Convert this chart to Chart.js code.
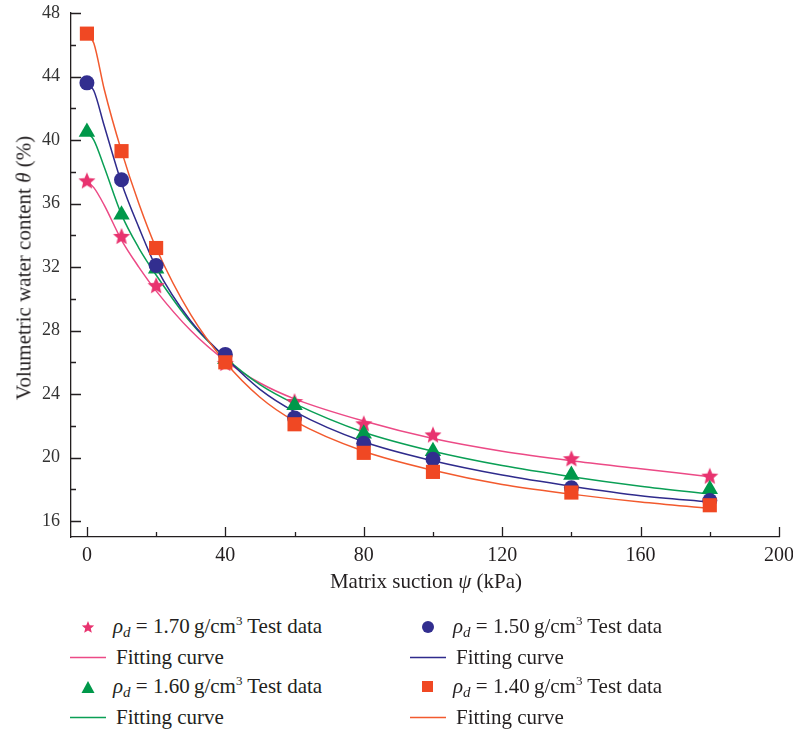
<!DOCTYPE html>
<html>
<head>
<meta charset="utf-8">
<script src="https://cdn.jsdelivr.net/npm/chart.js@4/dist/chart.umd.min.js"></script>
<style>
  body { margin: 0; background: #fff; }
  #wrap { position: relative; width: 793px; height: 731px; font-family: "Liberation Serif", serif; color: #231f20; }
  #box { position: absolute; left: 0; top: 0; width: 793px; height: 600px; }
  .ttl { position: absolute; font-size: 21px; white-space: nowrap; }
  #ytitle { left: 24px; top: 268px; transform: translate(-50%, -50%) rotate(-90deg); }
  #xtitle { left: 426px; top: 581px; transform: translate(-50%, -50%); }
  .leg { position: absolute; font-size: 21px; white-space: nowrap; transform: translateY(-50%); }
  .mk { position: absolute; transform: translate(-50%, -50%); line-height: 0; }
  sub { font-size: 15px; vertical-align: -4px; font-style: italic; }
  sup { font-size: 13px; vertical-align: 8px; }
</style>
</head>
<body>
<div id="wrap">
  <div id="box"><canvas id="chart"></canvas></div>
  <div class="ttl" id="ytitle">Volumetric water content <i>θ</i> (%)</div>
  <div class="ttl" id="xtitle">Matrix suction <i>ψ</i> (kPa)</div>
  <div id="legend"></div>
</div>
<script>
// test data (suction in kPa, water content in %)
const suction = [0, 10, 20, 40, 60, 80, 100, 140, 180];
const test170 = [37.4, 33.9, 30.8, 25.9, 23.5, 22.1, 21.4, 19.9, 18.8];
const test160 = [40.5, 35.3, 31.9, 26.2, 23.3, 21.5, 20.4, 18.9, 18.0];
const test150 = [43.6, 37.5, 32.1, 26.5, 22.5, 20.9, 19.9, 18.1, 17.3];
const test140 = [46.7, 39.3, 33.2, 26.0, 22.1, 20.3, 19.1, 17.8, 17.0];

// fitting curves
const fitX = [0, 2, 5, 10, 15, 20, 30, 40, 50, 60, 80, 100, 120, 140, 160, 180];
const fit170 = [37.4, 37.0, 35.9, 33.7, 32.0, 30.5, 28.0, 26.1, 24.7, 23.7, 22.3, 21.2, 20.4, 19.8, 19.3, 18.8];
const fit160 = [40.5, 40.0, 38.3, 35.3, 33.2, 31.5, 28.5, 26.3, 24.6, 23.4, 21.6, 20.4, 19.5, 18.8, 18.2, 17.7];
const fit150 = [43.6, 43.1, 40.9, 37.3, 34.5, 32.0, 28.6, 26.3, 24.3, 22.9, 21.0, 19.8, 18.9, 18.2, 17.6, 17.2];
const fit140 = [46.7, 46.1, 43.2, 39.3, 36.0, 33.2, 29.0, 26.0, 23.8, 22.3, 20.4, 19.2, 18.3, 17.7, 17.2, 16.8];

const xTicks = [0, 40, 80, 120, 160, 200];
const yTicks = [16, 20, 24, 28, 32, 36, 40, 44, 48];

const pink = '#e8336f', green = '#00984a', blue = '#322e8f', red = '#f04823';
const pinkLine = '#ec4a86', greenLine = '#0a9f55', blueLine = '#2f2b8c', redLine = '#f25a2e';

function starCanvas(color, r) {
  const c = document.createElement('canvas');
  c.width = c.height = 2 * r + 2;
  const g = c.getContext('2d');
  g.beginPath();
  for (let i = 0; i < 10; i++) {
    const a = -Math.PI / 2 + i * Math.PI / 5;
    const rr = i % 2 === 0 ? r : r * 0.45;
    g.lineTo(r + 1 + rr * Math.cos(a), r + 1 + rr * Math.sin(a));
  }
  g.closePath();
  g.fillStyle = color;
  g.fill();
  return c;
}

function pts(xs, ys) { return xs.map((x, i) => ({ x: x, y: ys[i] })); }

function scatter(ys, color, style, radius, order) {
  return { data: pts(suction, ys), showLine: false, pointStyle: style, pointRadius: radius,
    pointBackgroundColor: color, pointBorderColor: color, pointBorderWidth: 0, order: order };
}
function curve(ys, color, order) {
  return { data: pts(fitX, ys), showLine: true, pointRadius: 0, borderColor: color,
    borderWidth: 1.5, cubicInterpolationMode: 'monotone', order: order };
}

// inward ticks on both axes, minor ticks halfway
const tickPlugin = {
  id: 'inTicks',
  afterDatasetsDraw(chart) {
    const ctx = chart.ctx, xs = chart.scales.x, ys = chart.scales.y, a = chart.chartArea;
    ctx.save();
    ctx.strokeStyle = '#231f20';
    ctx.lineWidth = 1.3;
    ctx.beginPath();
    for (let v = 0; v <= 200; v += 20) {
      const px = Math.round(xs.getPixelForValue(v)) + 0.5;
      const len = v % 40 === 0 ? 10 : 5;
      ctx.moveTo(px, a.bottom); ctx.lineTo(px, a.bottom - len);
    }
    for (let v = 16; v <= 48; v += 2) {
      const py = Math.round(ys.getPixelForValue(v)) + 0.5;
      const len = v % 4 === 0 ? 10 : 5;
      ctx.moveTo(a.left, py); ctx.lineTo(a.left + len, py);
    }
    ctx.stroke();
    ctx.restore();
  }
};

new Chart(document.getElementById('chart'), {
  type: 'scatter',
  data: {
    datasets: [
      scatter(test140, red, 'rect', 10, 0),
      scatter(test150, blue, 'circle', 7.5, 1),
      scatter(test160, green, 'triangle', 9.5, 2),
      scatter(test170, pink, starCanvas(pink, 9), 9, 3),
      curve(fit140, redLine, 10),
      curve(fit150, blueLine, 11),
      curve(fit160, greenLine, 12),
      curve(fit170, pinkLine, 13)
    ]
  },
  options: {
    responsive: true,
    maintainAspectRatio: false,
    animation: false,
    layout: { padding: { top: 13, right: 14, left: 0, bottom: 0 } },
    plugins: { legend: { display: false }, tooltip: { enabled: false } },
    scales: {
      x: {
        type: 'linear', min: -4.6, max: 200,
        afterBuildTicks: s => { s.ticks = xTicks.map(v => ({ value: v })); },
        afterFit: s => { s.height = 63; s.paddingLeft = 0; s.paddingRight = 0; },
        grid: { display: false, drawTicks: false },
        border: { color: '#231f20', width: 1.3 },
        ticks: { color: '#231f20', padding: 7, maxRotation: 0, font: { family: 'Liberation Serif', size: 20 } }
      },
      y: {
        type: 'linear', min: 15, max: 48,
        afterBuildTicks: s => { s.ticks = yTicks.map(v => ({ value: v })); },
        afterFit: s => { s.width = 71; s.paddingTop = 0; s.paddingBottom = 0; },
        grid: { display: false, drawTicks: false },
        border: { color: '#231f20', width: 1.3 },
        ticks: { color: '#333', padding: 11, font: { family: 'Liberation Serif', size: 18 } }
      }
    }
  },
  plugins: [tickPlugin]
});

// legend
const legendRows = [
  { x: 88, y: 627, kind: 'star', color: pink, text: '<i>ρ</i><sub>d</sub> = 1.70\u2009g/cm<sup>3</sup> Test data' },
  { x: 88, y: 657, kind: 'line', color: pinkLine, text: 'Fitting curve' },
  { x: 88, y: 687, kind: 'tri', color: green, text: '<i>ρ</i><sub>d</sub> = 1.60\u2009g/cm<sup>3</sup> Test data' },
  { x: 88, y: 717, kind: 'line', color: greenLine, text: 'Fitting curve' },
  { x: 428, y: 627, kind: 'circle', color: blue, text: '<i>ρ</i><sub>d</sub> = 1.50\u2009g/cm<sup>3</sup> Test data' },
  { x: 428, y: 657, kind: 'line', color: blueLine, text: 'Fitting curve' },
  { x: 428, y: 687, kind: 'rect', color: red, text: '<i>ρ</i><sub>d</sub> = 1.40\u2009g/cm<sup>3</sup> Test data' },
  { x: 428, y: 717, kind: 'line', color: redLine, text: 'Fitting curve' }
];
const shapes = {
  star: c => { const p = []; for (let i = 0; i < 10; i++) { const a = -Math.PI / 2 + i * Math.PI / 5, r = i % 2 ? 2.9 : 6.5; p.push((7 + r * Math.cos(a)).toFixed(2) + ',' + (7.5 + r * Math.sin(a)).toFixed(2)); } return '<svg width="14" height="14"><polygon points="' + p.join(' ') + '" fill="' + c + '"/></svg>'; },
  tri: c => '<svg width="14" height="14"><polygon points="7,1 13.5,13 0.5,13" fill="' + c + '"/></svg>',
  circle: c => '<svg width="14" height="14"><circle cx="7" cy="7" r="6" fill="' + c + '"/></svg>',
  rect: c => '<svg width="12" height="12"><rect width="11" height="11" fill="' + c + '"/></svg>',
  line: c => '<svg width="36" height="4"><line x1="0" y1="2" x2="36" y2="2" stroke="' + c + '" stroke-width="1.6"/></svg>'
};
const leg = document.getElementById('legend');
legendRows.forEach(r => {
  const m = document.createElement('div');
  m.className = 'mk';
  m.style.left = r.x + 'px';
  m.style.top = r.y + 'px';
  m.innerHTML = shapes[r.kind](r.color);
  leg.appendChild(m);
  const t = document.createElement('div');
  t.className = 'leg';
  t.style.left = (r.kind === 'line' ? r.x + 28 : r.x + 25) + 'px';
  t.style.top = r.y + 'px';
  t.innerHTML = r.text;
  leg.appendChild(t);
});
</script>
</body>
</html>
